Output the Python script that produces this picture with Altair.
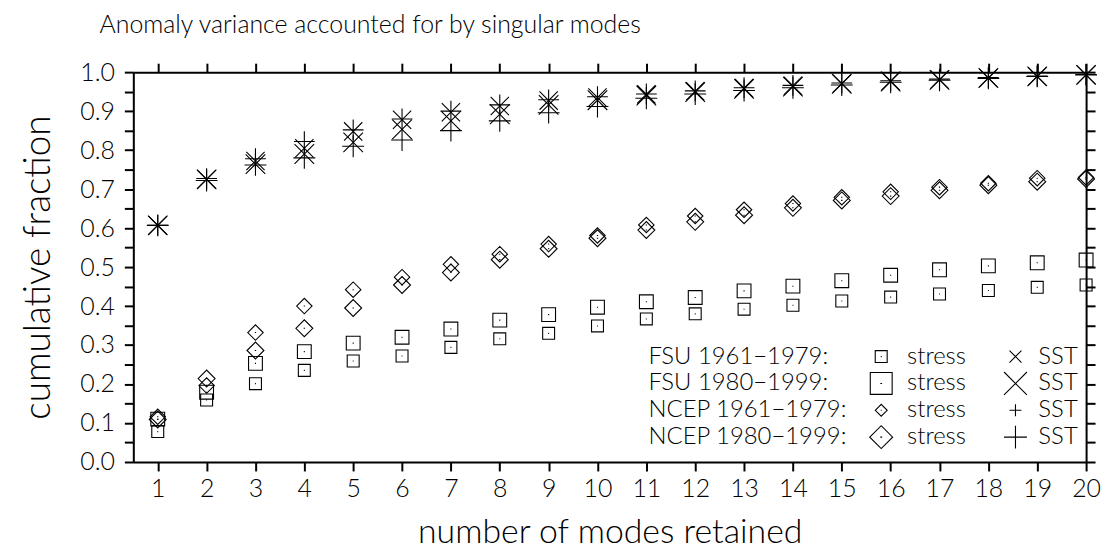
import altair as alt
import pandas as pd

# ---------------- data ----------------
modes = list(range(1, 21))

fsu_6179_stress = [0.078, 0.159, 0.201, 0.235, 0.259, 0.272, 0.294, 0.316, 0.330, 0.349,
                   0.367, 0.380, 0.392, 0.402, 0.413, 0.423, 0.431, 0.440, 0.448, 0.454]
fsu_8099_stress = [0.110, 0.179, 0.253, 0.283, 0.305, 0.320, 0.341, 0.364, 0.378, 0.397,
                   0.411, 0.422, 0.439, 0.451, 0.465, 0.479, 0.493, 0.503, 0.511, 0.518]
ncep_6179_stress = [0.116, 0.196, 0.332, 0.400, 0.442, 0.474, 0.507, 0.533, 0.559, 0.581,
                    0.608, 0.631, 0.647, 0.663, 0.679, 0.693, 0.705, 0.715, 0.728, 0.730]
ncep_8099_stress = [0.109, 0.214, 0.286, 0.343, 0.395, 0.454, 0.486, 0.519, 0.547, 0.574,
                    0.595, 0.616, 0.633, 0.652, 0.671, 0.682, 0.697, 0.710, 0.719, 0.726]

fsu_6179_sst = [0.607, 0.725, 0.772, 0.805, 0.848, 0.878, 0.897, 0.913, 0.927, 0.935,
                0.943, 0.951, 0.959, 0.965, 0.971, 0.977, 0.981, 0.985, 0.989, 0.993]
fsu_8099_sst = [0.607, 0.725, 0.764, 0.790, 0.820, 0.853, 0.875, 0.892, 0.916, 0.928,
                0.940, 0.949, 0.957, 0.963, 0.970, 0.976, 0.980, 0.985, 0.989, 0.993]
ncep_6179_sst = [0.607, 0.727, 0.778, 0.822, 0.852, 0.880, 0.900, 0.916, 0.929, 0.937,
                 0.944, 0.952, 0.960, 0.966, 0.972, 0.978, 0.982, 0.986, 0.990, 0.994]
ncep_8099_sst = [0.607, 0.722, 0.762, 0.780, 0.810, 0.826, 0.850, 0.875, 0.896, 0.912,
                 0.933, 0.944, 0.953, 0.960, 0.967, 0.974, 0.979, 0.984, 0.989, 0.993]

series_names = [
    "FSU 1961−1979 stress", "FSU 1980−1999 stress",
    "NCEP 1961−1979 stress", "NCEP 1980−1999 stress",
    "FSU 1961−1979 SST", "FSU 1980−1999 SST",
    "NCEP 1961−1979 SST", "NCEP 1980−1999 SST",
]
series_values = [
    fsu_6179_stress, fsu_8099_stress, ncep_6179_stress, ncep_8099_stress,
    fsu_6179_sst, fsu_8099_sst, ncep_6179_sst, ncep_8099_sst,
]

legend_labels = ["FSU 1961−1979:", "FSU 1980−1999:", "NCEP 1961−1979:", "NCEP 1980−1999:"]

y_ticks = [round(i * 0.05, 2) for i in range(21)]

# ---------------- styles ----------------
FONT = "Lato"
FW = 300
SQUARE = "M-1,-1L1,-1L1,1L-1,1Z M-0.08,0L0.08,0"
DIAMOND = "M-1,0L0,-1L1,0L0,1Z M-0.08,0L0.08,0"
XSHAPE = "M-1,-1L1,1M-1,1L1,-1"
PLUS = "M-1,0L1,0M0,-1L0,1"
shape_range = [SQUARE, SQUARE, DIAMOND, DIAMOND, XSHAPE, XSHAPE, PLUS, PLUS]
size_range = [144, 484, 144, 529, 144, 529, 144, 529]
SW = 1.1

records = []
for name, vals in zip(series_names, series_values):
    for m, v in zip(modes, vals):
        records.append({"mode": m, "value": v, "series": name})
df = pd.DataFrame(records)

x_scale = alt.Scale(domain=[0.5, 20], nice=False, zero=False)
y_scale = alt.Scale(domain=[0, 1], nice=False, zero=False)

axis_common = dict(
    domainColor="black", domainWidth=2, tickColor="black", tickWidth=2, tickSize=9,
    labelColor="black", labelFont=FONT, labelFontWeight=FW, labelFontSize=25,
    titleColor="black", titleFont=FONT, titleFontWeight=FW,
    grid=False, labelFlush=False, labelOverlap=False,
)

points = alt.Chart(df).mark_point(filled=False, color="black", strokeWidth=SW, opacity=1).encode(
    x=alt.X("mode:Q", scale=x_scale,
            axis=alt.Axis(orient="bottom", values=modes, format="d",
                          title="number of modes retained", labelPadding=6, titlePadding=14,
                          titleFontSize=34, **axis_common)),
    y=alt.Y("value:Q", scale=y_scale,
            axis=alt.Axis(orient="left", values=y_ticks,
                          labelExpr="round(datum.value*20) % 2 == 0 ? format(datum.value, '.1f') : ''",
                          title="cumulative fraction", labelPadding=10, titlePadding=22,
                          titleFontSize=37, **axis_common)),
    shape=alt.Shape("series:N", scale=alt.Scale(domain=series_names, range=shape_range), legend=None),
    size=alt.Size("series:N", scale=alt.Scale(domain=series_names, range=size_range), legend=None),
)

frame = alt.Chart(df).mark_point(opacity=0).encode(
    x=alt.X("mode:Q", scale=x_scale,
            axis=alt.Axis(orient="top", values=modes, labels=False, title=None, **axis_common)),
    y=alt.Y("value:Q", scale=y_scale,
            axis=alt.Axis(orient="right", values=y_ticks, labels=False, title=None, **axis_common)),
)

# ---------------- legend (drawn inside the plot) ----------------
row_y = [286, 313, 340, 367]
leg_layers = []
stress_shapes = [SQUARE, SQUARE, DIAMOND, DIAMOND]
stress_sizes = [144, 484, 144, 529]
sst_shapes = [XSHAPE, XSHAPE, PLUS, PLUS]
sst_sizes = [144, 529, 144, 529]
for i, lab in enumerate(legend_labels):
    rdf = pd.DataFrame({"label": [lab], "stress": ["stress"], "sst": ["SST"]})
    txt = dict(align="left", baseline="middle", fontSize=24, font=FONT, fontWeight=FW, color="black")
    leg_layers.append(alt.Chart(rdf).mark_text(**txt).encode(
        x=alt.value(518), y=alt.value(row_y[i]), text="label:N"))
    leg_layers.append(alt.Chart(rdf).mark_point(shape=stress_shapes[i], size=stress_sizes[i],
                                                filled=False, color="black", strokeWidth=SW,
                                                opacity=1).encode(
        x=alt.value(752), y=alt.value(row_y[i])))
    leg_layers.append(alt.Chart(rdf).mark_text(**txt).encode(
        x=alt.value(778), y=alt.value(row_y[i]), text="stress:N"))
    leg_layers.append(alt.Chart(rdf).mark_point(shape=sst_shapes[i], size=sst_sizes[i],
                                                filled=False, color="black", strokeWidth=SW,
                                                opacity=1).encode(
        x=alt.value(887), y=alt.value(row_y[i])))
    leg_layers.append(alt.Chart(rdf).mark_text(**txt).encode(
        x=alt.value(910), y=alt.value(row_y[i]), text="sst:N"))

chart = alt.layer(points, frame, *leg_layers).resolve_axis(
    x="independent", y="independent"
).properties(
    width=958, height=392,
    autosize=alt.AutoSizeParams(type="none"),
    padding={"left": 126, "top": 63, "right": 17, "bottom": 89},
    title=alt.TitleParams(
        "Anomaly variance accounted for by singular modes",
        anchor="start", frame="group", dx=-34, offset=22,
        font=FONT, fontWeight=FW, fontSize=25, color="black",
    ),
).configure_view(stroke="black", strokeWidth=2).configure(background="white")

chart.save("out.html", embed_options={"renderer": "svg", "actions": False})
